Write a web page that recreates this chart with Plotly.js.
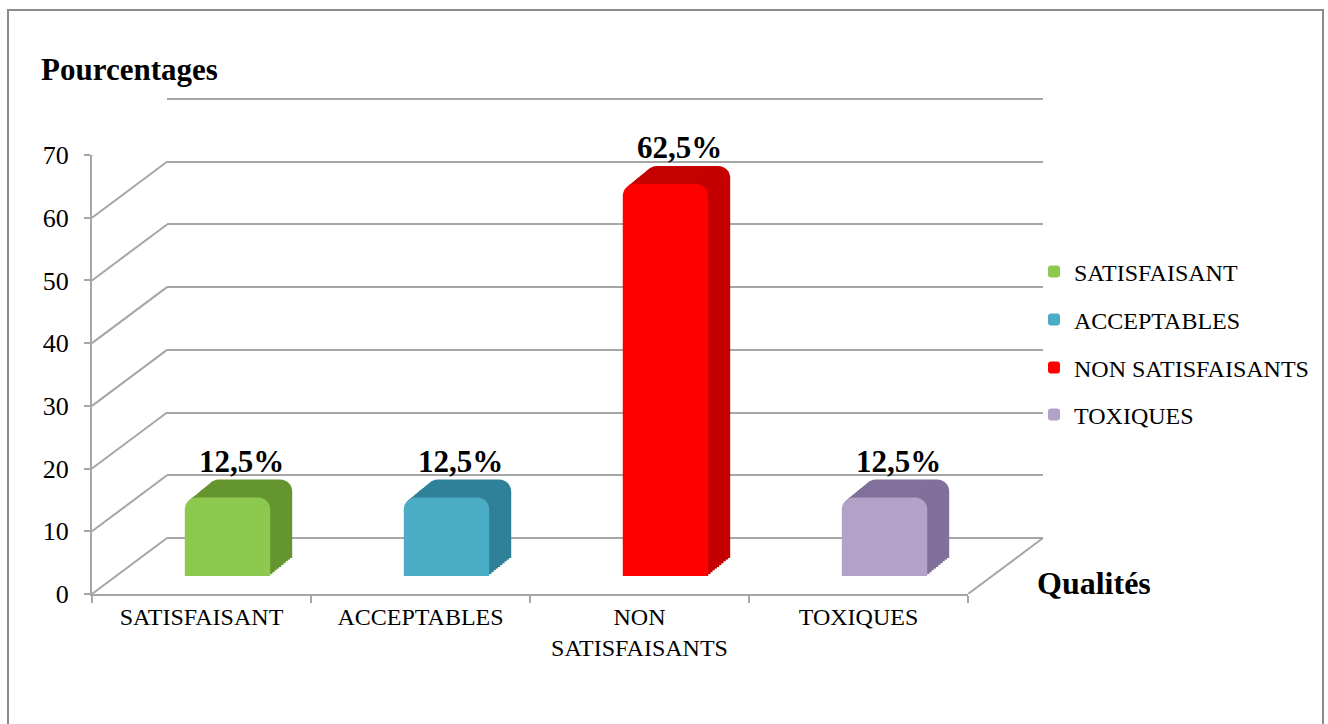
<!DOCTYPE html>
<html><head><meta charset="utf-8">
<script src="https://cdn.plot.ly/plotly-3.0.1.min.js"></script>
<style>html,body{margin:0;padding:0;background:#fff}#chart{width:1328px;height:724px}</style>
</head><body><div id="chart"></div>
<script>
// ---- data ----
const categories = ['SATISFAISANT', 'ACCEPTABLES', 'NON SATISFAISANTS', 'TOXIQUES'];
const tickLabels = ['SATISFAISANT', 'ACCEPTABLES', 'NON<br>SATISFAISANTS', 'TOXIQUES'];
const values = [12.5, 12.5, 62.5, 12.5];
const valueLabels = ['12,5%', '12,5%', '62,5%', '12,5%'];
const yTicks = [0, 10, 20, 30, 40, 50, 60, 70];
const frontColors = ['#8DC94F', '#4BACC6', '#FF0000', '#B3A2C7'];
const sideColors = ['#64952F', '#2F8199', '#C40000', '#80709A'];

// ---- geometry helpers ----
const W = 1328, H = 724;
const px = x => x / W, py = y => 1 - y / H;
const FONT = 'Liberation Serif, Times New Roman, serif';
const GRID = '#A6A6A6';
const Y0 = 594, YTOP = 155, XL = 92, XR = 968;
const YMAX = 70;
const unitPx = (Y0 - YTOP) / YMAX;
const DEPTH = {dx: 75, dy: 56};
function dom(dx, dy, pad) {
  pad = pad || 0;
  return {x: [px(XL + dx), px(XR + dx)], y: [py(Y0 - dy + pad * unitPx), py(YTOP - dy - pad * unitPx)]};
}

function hiddenX(d, anchor) {
  return {domain: d.x, anchor: anchor, type: 'category', categoryarray: categories, range: [-0.5, 3.5],
          showgrid: false, zeroline: false, showticklabels: false, showline: false, ticks: '', fixedrange: true};
}
function hiddenY(d, anchor) {
  return {domain: d.y, anchor: anchor, range: [0, YMAX], showgrid: false, zeroline: false,
          showticklabels: false, showline: false, ticks: '', fixedrange: true};
}

const traces = [];
const layout = {
  width: W, height: H, margin: {l: 0, r: 0, t: 0, b: 0},
  paper_bgcolor: '#fff', plot_bgcolor: 'rgba(0,0,0,0)',
  barmode: 'overlay', showlegend: true,
  title: {text: 'Pourcentages', x: px(41), xanchor: 'left', xref: 'paper', y: py(69), yanchor: 'middle', yref: 'paper',
    font: {family: FONT, size: 31, color: '#000', weight: 'bold'}}
};

// front axes (ticks, labels)
const dFront = dom(0, 0);
layout.xaxis = {domain: dFront.x, anchor: 'y', type: 'category', categoryarray: categories, range: [-0.5, 3.5],
  tickvals: categories, ticktext: tickLabels, tickson: 'boundaries', ticks: 'outside', ticklen: 7, tickwidth: 2,
  tickcolor: GRID, showline: true, linecolor: GRID, linewidth: 2, showgrid: false, zeroline: false,
  tickfont: {family: FONT, size: 24, color: '#000'}, fixedrange: true};
layout.yaxis = {domain: dFront.y, anchor: 'x', range: [0, YMAX], tickvals: yTicks, ticks: 'outside', ticklen: 6, tickwidth: 2,
  tickcolor: GRID, showline: true, linecolor: GRID, linewidth: 2, showgrid: false, zeroline: false,
  tickfont: {family: FONT, size: 26, color: '#000'}, ticklabelstandoff: 10, fixedrange: true};
traces.push({type: 'scatter', x: categories, y: values, mode: 'none', xaxis: 'x', yaxis: 'y', showlegend: false, hoverinfo: 'skip'});

// back wall gridlines (padded range so the 0 and 70 lines are drawn)
const dBack = dom(DEPTH.dx, DEPTH.dy, 1);
layout.xaxis2 = hiddenX(dBack, 'y2');
layout.yaxis2 = Object.assign(hiddenY(dBack, 'x2'), {range: [-1, YMAX + 1], showgrid: true, tickvals: yTicks, gridcolor: GRID, gridwidth: 2});
traces.push({type: 'scatter', x: [], y: [], xaxis: 'x2', yaxis: 'y2', showlegend: false, hoverinfo: 'skip'});

// bar depth layers: from back (offset 48,36) to just behind the front face (26,18)
const LAYERS = 10;
const FRONT_OFF = {dx: 26, dy: 18}, BACK_OFF = {dx: 48, dy: 36};
let axN = 3;
for (let k = 0; k < LAYERS; k++) {
  const t = 1 - k / LAYERS;
  const d = dom(FRONT_OFF.dx + (BACK_OFF.dx - FRONT_OFF.dx) * t, FRONT_OFF.dy + (BACK_OFF.dy - FRONT_OFF.dy) * t);
  layout['xaxis' + axN] = hiddenX(d, 'y' + axN);
  layout['yaxis' + axN] = hiddenY(d, 'x' + axN);
  traces.push({type: 'bar', x: categories, y: values, xaxis: 'x' + axN, yaxis: 'y' + axN, width: 0.39,
    marker: {color: sideColors, cornerradius: 12}, showlegend: false, hoverinfo: 'skip'});
  axN++;
}
// front faces (one trace per category, for legend)
const dFace = dom(FRONT_OFF.dx, FRONT_OFF.dy);
layout['xaxis' + axN] = hiddenX(dFace, 'y' + axN);
layout['yaxis' + axN] = hiddenY(dFace, 'x' + axN);
categories.forEach((c, i) => {
  traces.push({type: 'bar', x: [c], y: [values[i]], name: c, xaxis: 'x' + axN, yaxis: 'y' + axN, width: 0.39,
    marker: {color: frontColors[i], cornerradius: 12},
    legend: i === 0 ? 'legend' : 'legend' + (i + 1)});
});
axN++;
// value labels
const dLabel = dom(40, 36);
layout['xaxis' + axN] = hiddenX(dLabel, 'y' + axN);
layout['yaxis' + axN] = hiddenY(dLabel, 'x' + axN);
traces.push({type: 'scatter', mode: 'text', x: categories, y: values, text: valueLabels, xaxis: 'x' + axN, yaxis: 'y' + axN,
  textposition: 'top center', textfont: {family: FONT, size: 31, color: '#000', weight: 'bold'},
  showlegend: false, hoverinfo: 'skip', cliponaxis: false});

// border + perspective lines
const shapes = [];
shapes.push({type: 'rect', xref: 'paper', yref: 'paper', x0: px(8), x1: px(1323), y0: -0.05, y1: py(10),
  line: {color: '#8C8C8C', width: 2}, layer: 'below'});
yTicks.forEach(v => {
  shapes.push({type: 'line', xref: 'paper', yref: 'y', x0: px(XL), x1: px(XL + DEPTH.dx), y0: v, y1: v + DEPTH.dy / unitPx,
    line: {color: GRID, width: 2}, layer: 'below'});
});
shapes.push({type: 'line', xref: 'paper', yref: 'y', x0: px(XR), x1: px(XR + DEPTH.dx), y0: 0, y1: DEPTH.dy / unitPx,
  line: {color: GRID, width: 2}, layer: 'below'});
layout.shapes = shapes;

// legends
const legendYs = [272, 320, 368, 415];
function legendAt(yy) {
  return {x: px(1034), xanchor: 'left', y: py(yy), yanchor: 'middle', bgcolor: 'rgba(0,0,0,0)', borderwidth: 0,
    font: {family: FONT, size: 24, color: '#000'}};
}
layout.legend = legendAt(legendYs[0]);
layout.legend2 = legendAt(legendYs[1]);
layout.legend3 = legendAt(legendYs[2]);
layout.legend4 = legendAt(legendYs[3]);

layout.annotations = [{text: 'Qualités', xref: 'paper', yref: 'paper', x: px(1035), xanchor: 'left', y: py(583), yanchor: 'middle',
  showarrow: false, font: {family: FONT, size: 32, color: '#000', weight: 'bold'}}];

Plotly.newPlot('chart', traces, layout, {displayModeBar: false, staticPlot: true});
</script></body></html>
